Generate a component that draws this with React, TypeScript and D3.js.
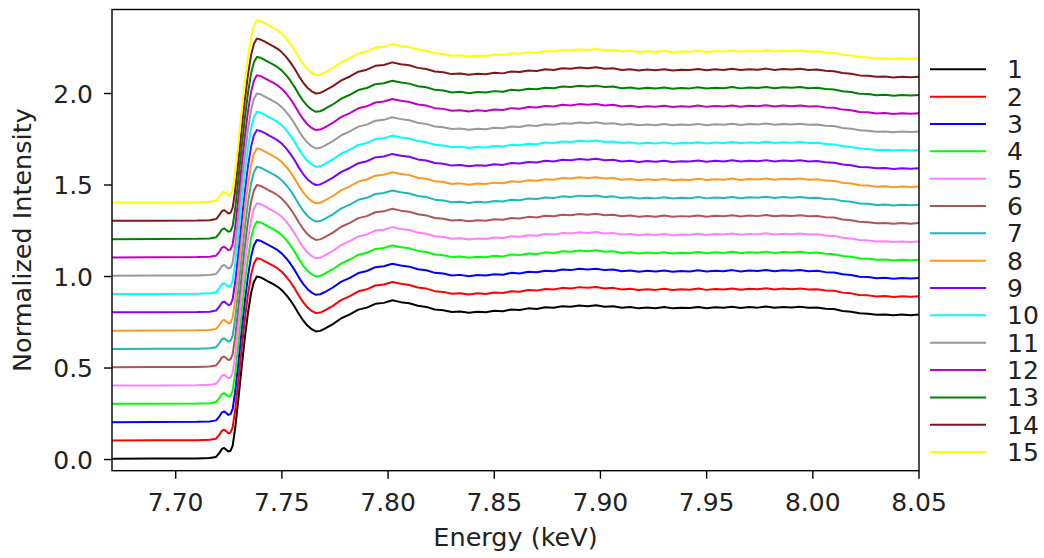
import React from "react";
import * as d3 from "d3";

// Energy grid (keV) and the shape of spectrum 1 (before stacking offsets)
const energy = [
  7.665, 7.69, 7.71, 7.716, 7.719, 7.7205, 7.7218, 7.7228, 7.7238, 7.7248, 7.7258, 7.7268,
  7.728, 7.7295, 7.731, 7.7325, 7.734, 7.7355, 7.7368, 7.7382, 7.74, 7.742, 7.744, 7.746,
  7.748, 7.75, 7.752, 7.754, 7.756, 7.758, 7.76, 7.762, 7.764, 7.766, 7.768,
  7.770, 7.774, 7.778, 7.782, 7.786, 7.790, 7.794, 7.798, 7.802, 7.806, 7.810, 7.814,
  7.818, 7.822, 7.826, 7.830, 7.834, 7.838, 7.842, 7.846, 7.850, 7.854, 7.858, 7.862,
  7.866, 7.870, 7.874, 7.878, 7.882, 7.886, 7.890, 7.894, 7.898, 7.902, 7.906, 7.910,
  7.914, 7.918, 7.922, 7.926, 7.930, 7.934, 7.938, 7.942, 7.946, 7.950, 7.954, 7.958,
  7.962, 7.966, 7.970, 7.974, 7.978, 7.982, 7.986, 7.990, 7.994, 7.998, 8.002, 8.006,
  8.010, 8.014, 8.018, 8.022, 8.026, 8.030, 8.034, 8.038, 8.042, 8.046, 8.050,
];

const baseIntensity = [
  0.004, 0.005, 0.006, 0.008, 0.014, 0.035, 0.058, 0.063, 0.054, 0.044, 0.048, 0.075,
  0.17, 0.33, 0.5, 0.66, 0.8, 0.91, 0.97, 1.0, 0.995, 0.983, 0.97, 0.958,
  0.944, 0.925, 0.9, 0.87, 0.835, 0.795, 0.76, 0.732, 0.712, 0.7, 0.703,
  0.714, 0.740, 0.772, 0.793, 0.819, 0.830, 0.851, 0.856, 0.870, 0.860, 0.854, 0.840,
  0.834, 0.820, 0.816, 0.806, 0.809, 0.802, 0.808, 0.805, 0.813, 0.810, 0.820, 0.817,
  0.826, 0.823, 0.832, 0.829, 0.838, 0.835, 0.842, 0.838, 0.843, 0.835, 0.838, 0.829,
  0.833, 0.826, 0.831, 0.827, 0.833, 0.826, 0.830, 0.828, 0.834, 0.827, 0.832, 0.829,
  0.835, 0.828, 0.833, 0.830, 0.836, 0.829, 0.834, 0.831, 0.835, 0.829, 0.831, 0.824,
  0.822, 0.812, 0.808, 0.799, 0.797, 0.791, 0.793, 0.788, 0.792, 0.789, 0.792,
];

const seriesLabels = ["1", "2", "3", "4", "5", "6", "7", "8", "9", "10", "11", "12", "13", "14", "15"];
const seriesOffsets = [0, 0.1, 0.2, 0.3, 0.4, 0.5, 0.6, 0.7, 0.8, 0.9, 1.0, 1.1, 1.2, 1.3, 1.4];
const seriesColors = [
  "#000000", "#ff0000", "#0000ff", "#00ff00", "#ff80ff", "#b05555", "#1fb8b8", "#ff9922",
  "#7f00ff", "#00ffff", "#999999", "#c000c0", "#008000", "#801818", "#ffff00",
];

const xTicks = [7.7, 7.75, 7.8, 7.85, 7.9, 7.95, 8.0, 8.05];
const yTicks = [0, 0.5, 1.0, 1.5, 2.0];

export default function App() {
  const W = 1044;
  const H = 558;
  const left = 112;
  const right = 919;
  const top = 9.5;
  const bottom = 470.7;
  const font = "DejaVu Sans, sans-serif";

  const x = d3.scaleLinear().domain([7.67, 8.05]).range([left, right]);
  const y = d3.scaleLinear().domain([-0.061, 2.459]).range([bottom, top]);

  const line = d3
    .line<[number, number]>()
    .x((d) => x(d[0]))
    .y((d) => y(d[1]));

  const series = seriesLabels.map((label, i) => ({
    label,
    color: seriesColors[i],
    points: energy.map((e, k) => [e, baseIntensity[k] + seriesOffsets[i]] as [number, number]),
  }));

  const legendX0 = 930;
  const legendX1 = 986;
  const legendY0 = 69.3;
  const legendStep = 27.34;

  return (
    <svg
      width={W}
      height={H}
      style={{ position: "absolute", left: 0, top: 0, background: "#fff" }}
      fontFamily={font}
    >
      <defs>
        <clipPath id="plotClip">
          <rect x={left} y={top} width={right - left} height={bottom - top} />
        </clipPath>
      </defs>
      <rect width={W} height={H} fill="#fff" />
      <g clipPath="url(#plotClip)">
        {series.map((s) => (
          <path
            key={s.label}
            d={line(s.points) || ""}
            fill="none"
            stroke={s.color}
            strokeWidth={2}
            strokeLinejoin="round"
          />
        ))}
      </g>
      {/* spines */}
      <rect
        x={left}
        y={top}
        width={right - left}
        height={bottom - top}
        fill="none"
        stroke="#000"
        strokeWidth={1.4}
      />
      {/* x ticks */}
      {xTicks.map((t) => (
        <g key={t}>
          <line x1={x(t)} x2={x(t)} y1={bottom} y2={bottom + 8} stroke="#000" strokeWidth={1.4} />
          <text x={x(t)} y={511} textAnchor="middle" fontSize={25} fill="#222">
            {d3.format(".2f")(t)}
          </text>
        </g>
      ))}
      {/* y ticks */}
      {yTicks.map((t) => (
        <g key={t}>
          <line x1={left - 8} x2={left} y1={y(t)} y2={y(t)} stroke="#000" strokeWidth={1.4} />
          <text x={93} y={y(t) + 9} textAnchor="end" fontSize={25} fill="#222">
            {d3.format(".1f")(t)}
          </text>
        </g>
      ))}
      <text x={(left + right) / 2} y={546} textAnchor="middle" fontSize={25.5} fill="#222">
        Energy (keV)
      </text>
      <text
        transform={`translate(31, ${(top + bottom) / 2}) rotate(-90)`}
        textAnchor="middle"
        fontSize={25.5}
        fill="#222"
      >
        Normalized Intensity
      </text>
      {/* legend */}
      {series.map((s, i) => {
        const ly = legendY0 + i * legendStep;
        return (
          <g key={"lg" + s.label}>
            <line x1={legendX0} x2={legendX1} y1={ly} y2={ly} stroke={s.color} strokeWidth={2} />
            <text x={1007} y={ly + 9} fontSize={25} fill="#222">
              {s.label}
            </text>
          </g>
        );
      })}
    </svg>
  );
}
